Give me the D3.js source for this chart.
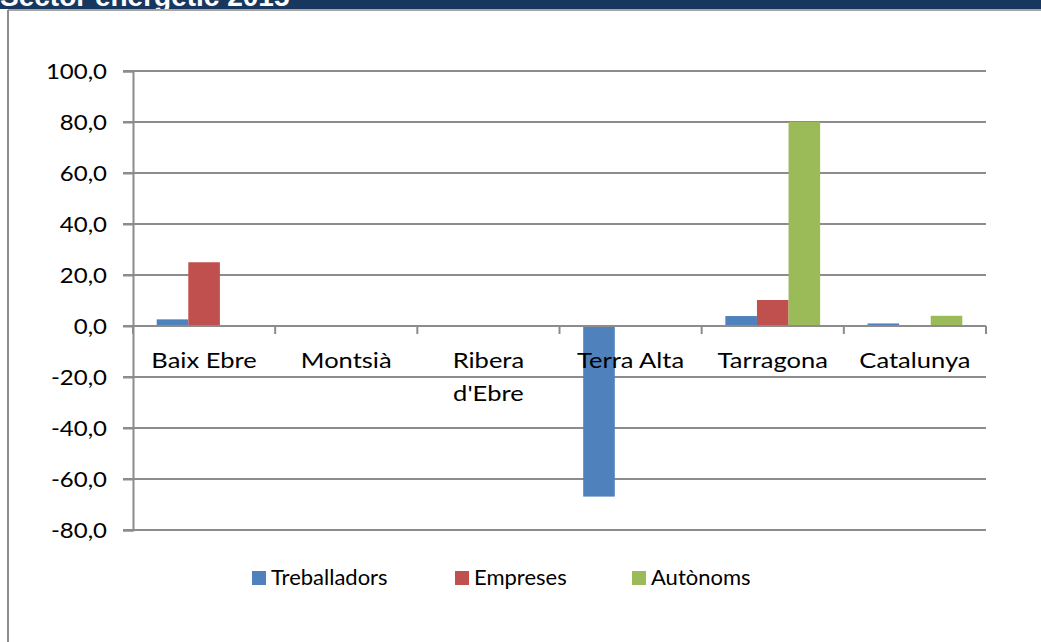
<!DOCTYPE html>
<html>
<head>
<meta charset="utf-8">
<script src="https://cdn.jsdelivr.net/npm/d3@7"></script>
<style>
  body { margin: 0; background: #fff; }
  text { font-family: Lato, "Liberation Sans", sans-serif; }
</style>
</head>
<body>
<script>
// data
var categories = ["Baix Ebre", "Montsià", "Ribera d'Ebre", "Terra Alta", "Tarragona", "Catalunya"];
var series = ["Treballadors", "Empreses", "Autònoms"];
var treballadors = [2.6, 0, 0, -66.9, 3.9, 1.0];
var empreses = [25.0, 0, 0, 0, 10.2, 0];
var autonoms = [0, 0, 0, 0, 80.0, 4.0];
var yTicks = [-80, -60, -40, -20, 0, 20, 40, 60, 80, 100];
var colors = ["#4F81BD", "#C0504D", "#9BBB59"];

var values = [treballadors, empreses, autonoms];
var rows = categories.map(function (c, i) {
  return { cat: c, vals: series.map(function (s, j) { return { s: s, v: values[j][i] }; }) };
});

var W = 1041, H = 642;
var svg = d3.select('body').append('svg')
  .attr("width", W)
  .attr("height", H);

// header strip (title mostly cut off in the original)
svg.append("clipPath").attr("id", "hclip")
  .append("rect").attr("x", 0).attr("y", 0).attr("width", W).attr("height", 9);
svg.append("rect").attr("x", 0).attr("y", 0).attr("width", W).attr("height", 9).attr("fill", "#17375E");
svg.append("text")
  .attr("clip-path", "url(#hclip)")
  .attr("x", 0).attr("y", 6)
  .style("font-family", "'Liberation Sans', Arial, sans-serif")
  .style("font-weight", "bold")
  .style("font-size", "28px")
  .attr("fill", "#fff")
  .text("Sector energètic 2015");
svg.append("line").attr("x1", 8).attr("x2", W).attr("y1", 10).attr("y2", 10)
  .attr("stroke", "#a6a6a6").attr("stroke-width", 2);
svg.append("line").attr("x1", 8).attr("x2", 8).attr("y1", 10).attr("y2", H)
  .attr("stroke", "#8c8c8c").attr("stroke-width", 2);

var plotLeft = 133, plotRight = 986, plotTop = 71, plotBottom = 530;

var x0 = d3.scaleBand().domain(categories).range([plotLeft, plotRight]).padding(0);
var x1 = d3.scaleBand().domain(series).range([0, x0.bandwidth()]).paddingInner(0).paddingOuter(0.75);
var y = d3.scaleLinear().domain([-80, 100]).range([plotBottom, plotTop]);

var fmt = function (d) { return d3.format(".1f")(d).replace(".", ",").replace("\u2212", "-"); };
var gridColor = "#8c8c8c";

// gridlines
svg.append("g").selectAll("line").data(yTicks.filter(function (d) { return d !== 0; }))
  .enter().append("line")
  .attr("x1", plotLeft - 10).attr("x2", plotRight)
  .attr("y1", function (d) { return y(d); }).attr("y2", function (d) { return y(d); })
  .attr("stroke", gridColor).attr("stroke-width", 2);

// y axis
var yAxis = svg.append("g").attr("transform", "translate(" + plotLeft + ",0)")
  .call(d3.axisLeft(y).tickValues(yTicks).tickFormat(fmt).tickSize(10).tickPadding(16));
yAxis.select(".domain").attr("stroke", gridColor).attr("stroke-width", 2);
yAxis.selectAll(".tick line").attr("stroke", gridColor).attr("stroke-width", 2);
yAxis.selectAll("text")
  .attr("x", 0)
  .attr("transform", "translate(-26,0) scale(1.09,1)")
  .style("font-size", "22px").attr("fill", "#000")
  .style("font-family", "Lato, 'Liberation Sans', sans-serif");

// bars
var groups = svg.append("g").selectAll("g").data(rows).enter().append("g")
  .attr("transform", function (d) { return "translate(" + x0(d.cat) + ",0)"; });
groups.selectAll("rect").data(function (d) { return d.vals; }).enter().append("rect")
  .attr("x", function (d) { return x1(d.s); })
  .attr("width", x1.bandwidth())
  .attr("y", function (d) { return y(Math.max(0, d.v)); })
  .attr("height", function (d) { return Math.abs(y(d.v) - y(0)); })
  .attr("fill", function (d, i) { return colors[i]; });

// x axis at zero
svg.append("line").attr("x1", plotLeft - 10).attr("x2", plotRight)
  .attr("y1", y(0)).attr("y2", y(0))
  .attr("stroke", gridColor).attr("stroke-width", 2);
var bounds = categories.map(function (c) { return x0(c); }).concat([plotRight]);
svg.append("g").selectAll("line").data(bounds).enter().append("line")
  .attr("x1", function (d) { return d; }).attr("x2", function (d) { return d; })
  .attr("y1", y(0)).attr("y2", y(0) + 8)
  .attr("stroke", gridColor).attr("stroke-width", 2);

// category labels, wrapped when too long
var labels = svg.append("g").selectAll("text").data(categories).enter().append("text")
  .attr("transform", function (d) {
    return "translate(" + (x0(d) + x0.bandwidth() / 2) + "," + (y(0) + 42) + ") scale(1.16,1)";
  })
  .attr("text-anchor", "middle")
  .style("font-size", "22px")
  .attr("fill", "#000")
  .text(function (d) { return d; });
labels.each(function (d) {
  var t = d3.select(this);
  if (this.getComputedTextLength() > 105) {
    var words = d.split(" ");
    t.text(null);
    words.forEach(function (w, i) {
      t.append("tspan").attr("x", 0).attr("dy", i === 0 ? 0 : 33).text(w);
    });
  }
});

// legend
var legendX = [252, 455, 632];
var lg = svg.append("g").selectAll("g").data(series).enter().append("g")
  .attr("transform", function (d, i) { return "translate(" + legendX[i] + ",571)"; });
lg.append("rect").attr("width", 14).attr("height", 14)
  .attr("fill", function (d, i) { return colors[i]; });
lg.append("text").attr("x", 19).attr("y", 14)
  .style("font-size", "22px").attr("fill", "#000")
  .text(function (d) { return d; });
</script>
</body>
</html>
